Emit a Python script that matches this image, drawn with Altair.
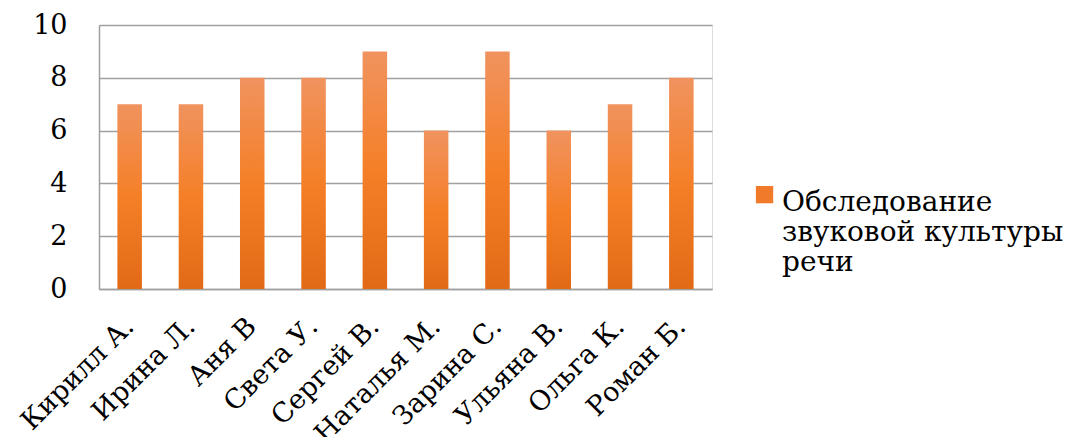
import altair as alt
import pandas as pd

names = ["Кирилл А.", "Ирина Л.", "Аня В", "Света У.", "Сергей В.",
         "Наталья М.", "Зарина С.", "Ульяна  В.", "Ольга К.", "Роман Б."]
scores = [7, 7, 8, 8, 9, 6, 9, 6, 7, 8]
series = "Обследование звуковой культуры речи"
legend_lines = ["Обследование", "звуковой культуры", "речи"]

df = pd.DataFrame({"name": names, "score": scores, "series": [series] * len(names)})

FONT = "DejaVu Serif"

grad = alt.Gradient(
    gradient="linear", x1=0, y1=0, x2=0, y2=1,
    stops=[alt.GradientStop(color="#F0935F", offset=0),
           alt.GradientStop(color="#F57F27", offset=0.5),
           alt.GradientStop(color="#E26A17", offset=1)],
)

x = alt.X("name:N", sort=names, title=None,
          scale=alt.Scale(paddingInner=0.6, paddingOuter=0.3),
          axis=alt.Axis(labelAngle=-45, labelAlign="right", labelBaseline="middle",
                        labelFontSize=27, labelFont=FONT, labelColor="#000000",
                        labelPadding=33, ticks=False, domainColor="#A0A0A0",
                        domainWidth=1.5, labelLimit=400))
y = alt.Y("score:Q", title=None,
          scale=alt.Scale(domain=[0, 10]),
          axis=alt.Axis(values=[0, 2, 4, 6, 8, 10], labelFontSize=27, labelFont=FONT,
                        labelColor="#000000", labelPadding=32, ticks=False,
                        domainColor="#A0A0A0", domainWidth=1.5,
                        gridColor="#A0A0A0", gridWidth=1.5))

bars = alt.Chart(df).mark_bar(color=grad).encode(x=x, y=y)

legend_layer = alt.Chart(df).mark_square(size=0, opacity=1).encode(
    x=alt.X("name:N", sort=names),
    y=alt.Y("score:Q"),
    color=alt.Color("series:N", scale=alt.Scale(range=["#F07A2A"]),
                    legend=alt.Legend(
                        title=None, orient="none", legendX=655, legendY=150,
                        symbolType="M-1.4,-0.35H0.6V1.65H-1.4Z", symbolSize=300,
                        symbolStrokeWidth=0,
                        labelExpr="['Обследование', 'звуковой культуры', 'речи']",
                        labelFont=FONT, labelFontSize=28, labelColor="#000000",
                        labelBaseline="top", labelLimit=400, labelOffset=0,
                        padding=0)),
)

chart = alt.layer(bars, legend_layer).properties(
    width=613, height=264,
    autosize=alt.AutoSizeParams(type="none"),
    padding={"left": 91, "top": 17, "right": 355, "bottom": 148},
).configure_view(stroke=None).configure_axis(grid=True).configure_axisX(grid=False).configure(font=FONT)

chart.save("out.html", embed_options={"renderer": "svg", "actions": False})
